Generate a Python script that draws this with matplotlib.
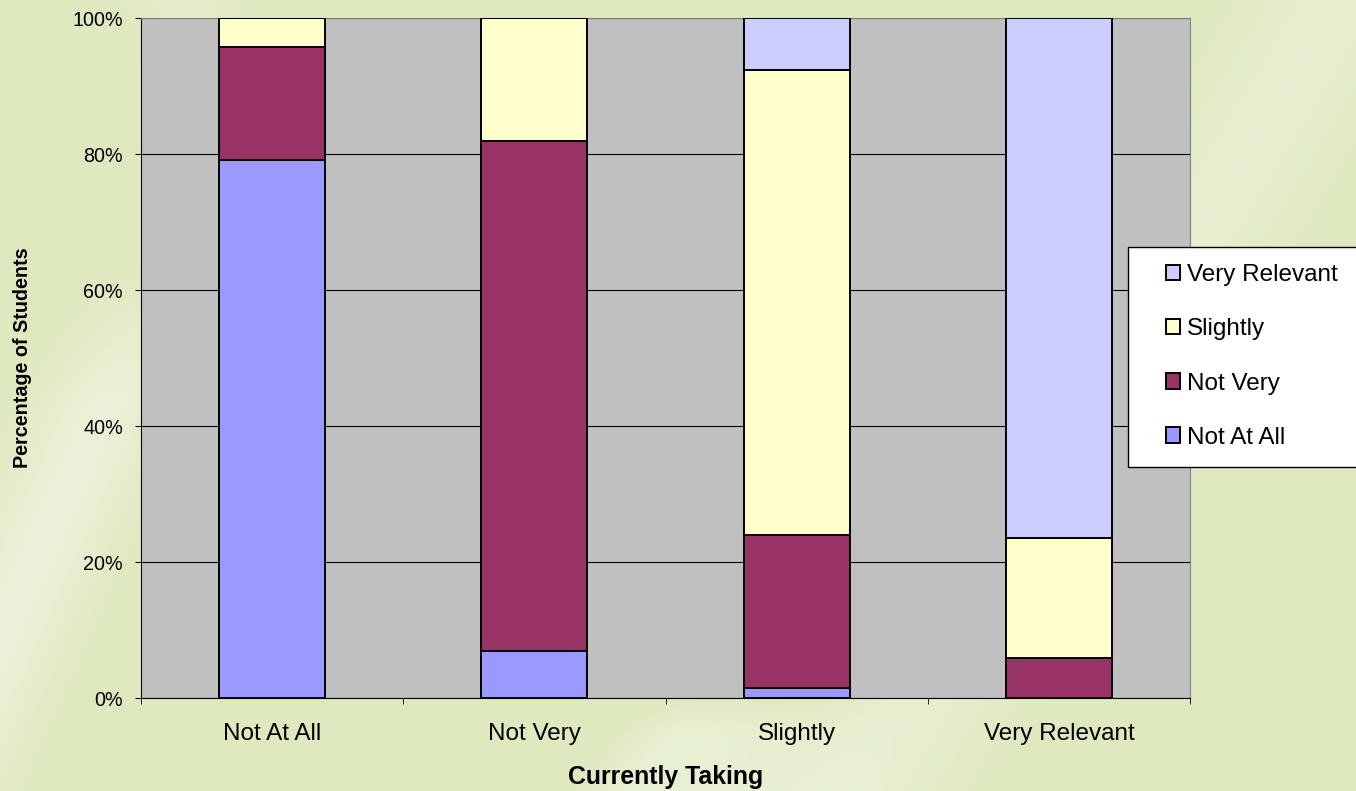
import numpy as np
import matplotlib
matplotlib.use("Agg")
import matplotlib.pyplot as plt
import matplotlib.patches as patches
from matplotlib.ticker import PercentFormatter

# --- Data ---
categories = ["Not At All", "Not Very", "Slightly", "Very Relevant"]
not_at_all = [79.1, 6.9, 1.5, 0.0]
not_very = [16.6, 75.0, 22.4, 5.9]
slightly = [4.3, 18.1, 68.5, 17.7]
very_relevant = [0.0, 0.0, 7.6, 76.4]

series_names = ["Not At All", "Not Very", "Slightly", "Very Relevant"]
series_values = [not_at_all, not_very, slightly, very_relevant]
series_colors = ["#9999FF", "#993366", "#FFFFCC", "#CCCCFF"]

plt.rcParams["font.family"] = ["Liberation Sans", "DejaVu Sans"]

W, H = 1356, 791
fig = plt.figure(figsize=(W / 100, H / 100), dpi=100)

# --- Background: pale green with soft diagonal light streaks ---
bg = fig.add_axes([0, 0, 1, 1], zorder=-10)
h, w = 240, 400
yy, xx = np.mgrid[0:h, 0:w]
u = xx / w * W
v = yy / h * H
def streak(x0, y0, slope, width):
    # distance of a pixel from a line through (x0, y0)
    d = (u - x0) - slope * (v - y0)
    return np.exp(-d ** 2 / (2 * width ** 2))
light = 0.55 * streak(60, 500, -0.45, 45) * np.clip((v - 250) / 150, 0, 1)
light += 0.45 * np.clip(((u - 560) + 0.9 * (v - 791)) / 60, 0, 1) * np.clip((v - 690) / 40, 0, 1) * np.clip((900 - u) / 200, 0, 1)
light += 0.35 * streak(1300, 60, -0.6, 60)
light += 0.25 * streak(180, 0, 0.3, 40) * np.clip((120 - v) / 120, 0, 1)
light = np.clip(light, 0, 1)
base = np.array([0.875, 0.915, 0.75])
white = np.array([0.96, 0.975, 0.93])
img = base * (1 - light[..., None]) + white * light[..., None]
bg.imshow(img, aspect="auto", extent=[0, 1, 0, 1], origin="upper")
bg.axis("off")

# --- Main chart ---
ax = fig.add_axes([141 / W, 1 - 698 / H, (1190 - 141) / W, (698 - 18) / H])
ax.set_facecolor("#C0C0C0")

x = np.arange(len(categories))
bottom = np.zeros(len(categories))
handles = []
for name, vals, col in zip(series_names, series_values, series_colors):
    b = ax.bar(x, vals, width=0.405, bottom=bottom, color=col, edgecolor="black",
               linewidth=1.4, label=name, zorder=3)
    handles.append(b)
    bottom += np.array(vals)

ax.set_xlim(-0.5, len(categories) - 0.5)
ax.set_ylim(0, 100)
ax.set_yticks(np.arange(0, 101, 20))
ax.yaxis.set_major_formatter(PercentFormatter(decimals=0))
ax.grid(axis="y", color="black", linewidth=0.8, zorder=1)
ax.set_axisbelow(True)

ax.set_xticks(x)
ax.set_xticklabels(categories)
ax.set_xticks(np.arange(-0.5, len(categories)), minor=True)
ax.tick_params(axis="x", which="major", length=0, pad=18.3, labelsize=17.5)
ax.tick_params(axis="x", which="minor", length=4.3, direction="out", color="black")
ax.tick_params(axis="y", length=4.3, direction="out", labelsize=14.2, pad=8.6)

for s in ["top", "right"]:
    ax.spines[s].set_color("#808080")
for s in ["left", "bottom"]:
    ax.spines[s].set_color("black")

ax.set_ylabel("Percentage of Students", fontsize=14.2, fontweight="bold", labelpad=29)
ax.set_xlabel("Currently Taking", fontsize=17.9, fontweight="bold", labelpad=14)

# --- Legend: white box running off the right edge ---
box = patches.Rectangle((1128 / W, 1 - 467 / H), (1362 - 1128) / W, (467 - 247) / H,
                        transform=fig.transFigure, facecolor="white",
                        edgecolor="black", linewidth=1.0, zorder=5)
fig.add_artist(box)
leg = fig.legend(handles[::-1], series_names[::-1], loc="center left",
                 bbox_to_anchor=(1166 / W, 1 - 356.5 / H), fontsize=17.5,
                 frameon=False, handlelength=0.58, handleheight=0.58,
                 handletextpad=0.3, labelspacing=1.32, borderpad=0,
                 borderaxespad=0)
leg.set_zorder(6)

fig.savefig("out.png", dpi=100)
